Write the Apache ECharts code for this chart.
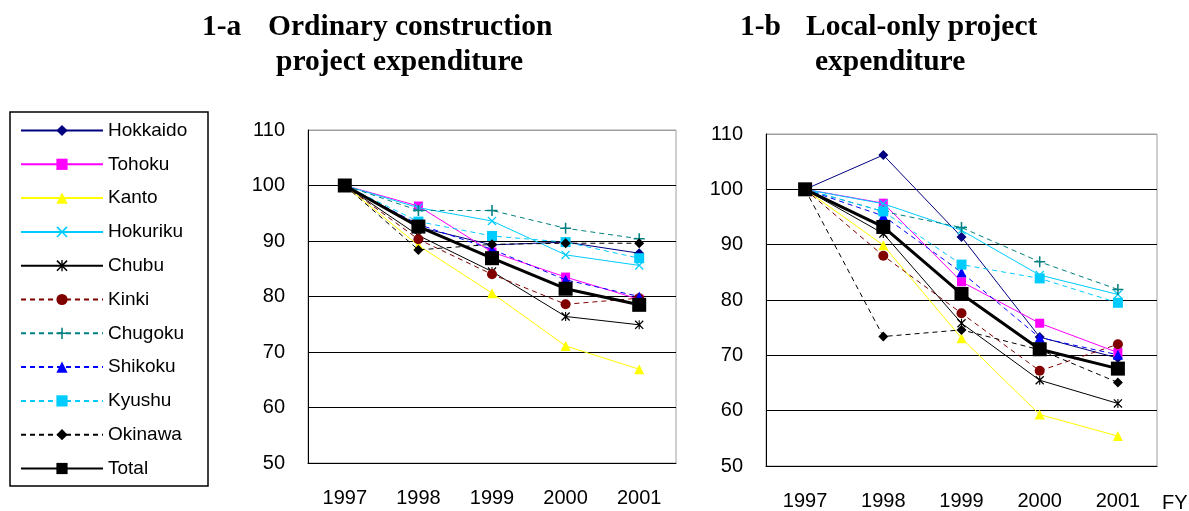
<!DOCTYPE html>
<html>
<head>
<meta charset="utf-8">
<script src="https://cdn.jsdelivr.net/npm/echarts@6/dist/echarts.min.js"></script>
<style>
  html, body { margin: 0; padding: 0; background: #fff; }
  #chart { width: 1189px; height: 511px; }
</style>
</head>
<body>
<div id="chart"></div>
<script>
// fiscal years and y ticks
const years = ["1997", "1998", "1999", "2000", "2001"];
const yTicks = [50, 60, 70, 80, 90, 100, 110];

// 1-a ordinary construction project expenditure (1997 = 100)
const hokkaidoA = [100, 92.5, 89.3, 89.8, 87.8];
const tohokuA = [100, 96.3, 88.0, 83.5, 79.5];
const kantoA = [100, 89.2, 80.6, 71.1, 66.9];
const hokurikuA = [100, 96.0, 93.6, 87.5, 85.6];
const chubuA = [100, 91.0, 84.5, 76.4, 74.9];
const kinkiA = [100, 90.3, 84.0, 78.6, 79.7];
const chugokuA = [100, 95.5, 95.5, 92.3, 90.4];
const shikokuA = [100, 93.0, 88.5, 83.0, 80.0];
const kyushuA = [100, 93.5, 90.9, 89.8, 86.9];
const okinawaA = [100, 88.4, 89.4, 89.6, 89.6];
const totalA = [100, 92.6, 86.9, 81.4, 78.5];

// 1-b local-only project expenditure (1997 = 100)
const hokkaidoB = [100, 106.2, 91.4, 73.3, 69.5];
const tohokuB = [100, 97.5, 83.3, 75.8, 70.5];
const kantoB = [100, 89.9, 73.1, 59.3, 55.4];
const hokurikuB = [100, 97.4, 92.6, 84.5, 81.0];
const chubuB = [100, 92.0, 75.8, 65.5, 61.3];
const kinkiB = [100, 88.0, 77.6, 67.2, 72.0];
const chugokuB = [100, 96.0, 93.1, 86.9, 81.9];
const shikokuB = [100, 95.2, 85.0, 73.2, 70.1];
const kyushuB = [100, 96.0, 86.4, 83.9, 79.5];
const okinawaB = [100, 73.4, 74.6, 71.0, 65.1];
const totalB = [100, 93.2, 81.1, 71.1, 67.6];

// marker shapes that echarts does not have
const crossX = "path://M0,1L1,0L5,4L9,0L10,1L6,5L10,9L9,10L5,6L1,10L0,9L4,5Z";
const star = "path://M0,1L1,0L5,4L9,0L10,1L6,5L10,9L9,10L5,6L1,10L0,9L4,5Z M4.4,0L5.6,0L5.6,10L4.4,10Z";
const plus = "path://M4.3,0h1.4v4.3h4.3v1.4h-4.3v4.3h-1.4v-4.3h-4.3v-1.4h4.3Z";

const dash = [5, 4];
const styles = [
  { name: "Hokkaido", color: "#000080", symbol: "diamond", size: 10, type: "solid" },
  { name: "Tohoku", color: "#ff00ff", symbol: "rect", size: 9, type: "solid" },
  { name: "Kanto", color: "#ffff00", symbol: "triangle", size: 10, type: "solid" },
  { name: "Hokuriku", color: "#00ccff", symbol: crossX, size: 9, type: "solid" },
  { name: "Chubu", color: "#000000", symbol: star, size: 9, type: "solid" },
  { name: "Kinki", color: "#800000", symbol: "circle", size: 10, type: dash },
  { name: "Chugoku", color: "#008080", symbol: plus, size: 11, type: dash },
  { name: "Shikoku", color: "#0000ff", symbol: "triangle", size: 10, type: dash },
  { name: "Kyushu", color: "#00ccff", symbol: "rect", size: 10, type: dash },
  { name: "Okinawa", color: "#000000", symbol: "diamond", size: 10, type: dash },
  { name: "Total", color: "#000000", symbol: "rect", size: 14, type: "solid", width: 3 },
];
const dataA = [hokkaidoA, tohokuA, kantoA, hokurikuA, chubuA, kinkiA, chugokuA, shikokuA, kyushuA, okinawaA, totalA];
const dataB = [hokkaidoB, tohokuB, kantoB, hokurikuB, chubuB, kinkiB, chugokuB, shikokuB, kyushuB, okinawaB, totalB];

const labelFont = "Liberation Sans";
const titleFont = 'bold 29.5px "Liberation Serif"';

function makeSeries(data, idx) {
  return styles.map((s, i) => ({
    name: s.name,
    type: "line",
    xAxisIndex: idx,
    yAxisIndex: idx,
    data: data[i],
    symbol: s.symbol,
    symbolSize: s.size,
    color: s.color,
    lineStyle: { color: s.color, width: s.width || 1, type: s.type },
    itemStyle: { color: s.color },
    emphasis: { disabled: true },
    z: 2 + i,
  }));
}

function xAxisOf(idx) {
  return {
    type: "category",
    gridIndex: idx,
    data: years,
    boundaryGap: true,
    axisLine: { lineStyle: { color: "#000", width: 1 } },
    axisTick: { inside: true, length: 5, lineStyle: { color: "#000" } },
    axisLabel: { color: "#000", fontSize: 20, fontFamily: labelFont, margin: 25 },
  };
}

function yAxisOf(idx) {
  return {
    type: "value",
    gridIndex: idx,
    min: yTicks[0],
    max: yTicks[yTicks.length - 1],
    interval: 10,
    axisLine: { show: true, lineStyle: { color: "#000", width: 1 } },
    axisTick: { show: false },
    axisLabel: { color: "#000", fontSize: 20, fontFamily: labelFont, margin: 23 },
    splitLine: {
      lineStyle: { color: ["#000", "#000", "#000", "#000", "#000", "#000", "#a0a0a0"], width: 1 },
    },
  };
}

let myChart = echarts.init(document.getElementById("chart"));

let option = {
  animation: false,
  backgroundColor: "#fff",
  grid: [
    { left: 308, top: 130, width: 368, height: 333, show: true, borderColor: "#a0a0a0", borderWidth: 1 },
    { left: 766, top: 134, width: 391, height: 336, show: true, borderColor: "#a0a0a0", borderWidth: 1 },
  ],
  xAxis: [xAxisOf(0), xAxisOf(1)],
  yAxis: [yAxisOf(0), yAxisOf(1)],
  legend: {
    orient: "vertical",
    left: 20,
    top: 121,
    padding: 0,
    itemWidth: 82,
    itemHeight: 14,
    itemGap: 14.8,
    selectedMode: false,
    data: styles.map((s) => s.name),
    textStyle: { color: "#000", fontSize: 19, fontFamily: labelFont },
  },
  graphic: [
    {
      type: "rect",
      shape: { x: 10, y: 112, width: 198, height: 374 },
      style: { fill: "none", stroke: "#000", lineWidth: 1.5 },
    },
    { type: "text", left: 202, top: 12, style: { text: "1-a", font: titleFont, fill: "#000" } },
    { type: "text", left: 268, top: 12, style: { text: "Ordinary construction", font: titleFont, fill: "#000" } },
    { type: "text", left: 276, top: 47, style: { text: "project expenditure", font: titleFont, fill: "#000" } },
    { type: "text", left: 740, top: 12, style: { text: "1-b", font: titleFont, fill: "#000" } },
    { type: "text", left: 806, top: 12, style: { text: "Local-only project", font: titleFont, fill: "#000" } },
    { type: "text", left: 815, top: 47, style: { text: "expenditure", font: titleFont, fill: "#000" } },
    { type: "text", left: 1162, top: 493, style: { text: "FY", font: '20px "Liberation Sans"', fill: "#000" } },
  ],
  series: makeSeries(dataA, 0).concat(makeSeries(dataB, 1)),
};

myChart.setOption(option);
</script>
</body>
</html>
